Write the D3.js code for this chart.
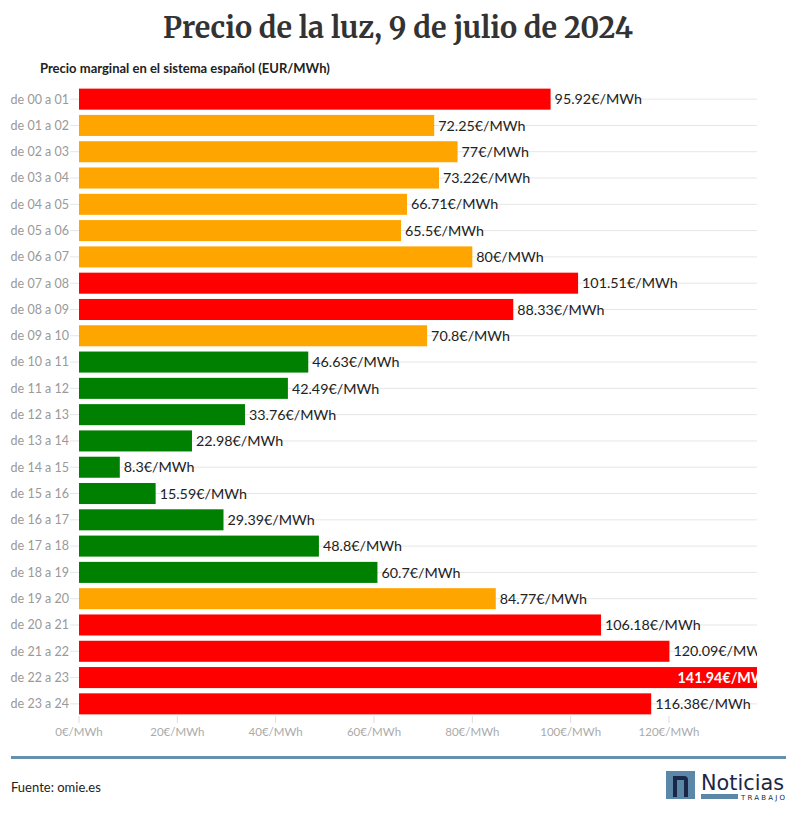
<!DOCTYPE html>
<html><head><meta charset="utf-8">
<script src="https://cdn.jsdelivr.net/npm/d3@7"></script>
<style>
body{margin:0;background:#fff;}
svg{display:block;}
</style></head>
<body>
<svg id="chart" width="796" height="817"></svg>
<script>
const categories = ["de 00 a 01","de 01 a 02","de 02 a 03","de 03 a 04","de 04 a 05","de 05 a 06","de 06 a 07","de 07 a 08","de 08 a 09","de 09 a 10","de 10 a 11","de 11 a 12","de 12 a 13","de 13 a 14","de 14 a 15","de 15 a 16","de 16 a 17","de 17 a 18","de 18 a 19","de 19 a 20","de 20 a 21","de 21 a 22","de 22 a 23","de 23 a 24"];
const values = [95.92,72.25,77,73.22,66.71,65.5,80,101.51,88.33,70.8,46.63,42.49,33.76,22.98,8.3,15.59,29.39,48.8,60.7,84.77,106.18,120.09,141.94,116.38];
const levels = ["high","mid","mid","mid","mid","mid","mid","high","high","mid","low","low","low","low","low","low","low","low","low","mid","high","high","high","high"];
const tickValues = [0,20,40,60,80,100,120];
const colorMap = {high:"#ff0000", mid:"#ffa500", low:"#008000"};

const svg = d3.select("#chart");
const sans = "'Source Sans Pro', Lato, 'Noto Sans', sans-serif";

// Title
const title = svg.append("text").attr("x",398).attr("y",38).attr("text-anchor","middle")
  .style("font-family","'Merriweather', 'DejaVu Serif', serif").style("font-weight","bold")
  .style("font-size","29px").attr("fill","#333").text("Precio de la luz, 9 de julio de 2024");
const tw = title.node().getComputedTextLength();
if (tw > 472) title.attr("textLength",470).attr("lengthAdjust","spacingAndGlyphs");

svg.append("text").attr("x",40).attr("y",73)
  .style("font-family",sans).style("font-weight","bold").style("font-size","13px")
  .attr("fill","#222").text("Precio marginal en el sistema español (EUR/MWh)");

const x = d3.scaleLinear().domain([0,137.9]).range([79,757]);
const y = d3.scaleBand().domain(categories).range([86,717]).paddingInner(0.2).paddingOuter(0.1);

svg.append("defs").append("clipPath").attr("id","plotclip")
  .append("rect").attr("x",0).attr("y",0).attr("width",757).attr("height",817);

// gridlines
svg.append("g").selectAll("line").data(categories).join("line")
  .attr("x1",70).attr("x2",757)
  .attr("y1",d=>y(d)+y.bandwidth()/2).attr("y2",d=>y(d)+y.bandwidth()/2)
  .attr("stroke","#e6e6e6").attr("stroke-width",1);

// y labels
svg.append("g").selectAll("text").data(categories).join("text")
  .attr("x",69).attr("y",d=>y(d)+y.bandwidth()/2).attr("dy","0.35em")
  .attr("text-anchor","end").style("font-family",sans).style("font-size","12.5px")
  .attr("fill","#999").text(d=>d);

const plot = svg.append("g").attr("clip-path","url(#plotclip)");
const data = categories.map((c,i)=>({c, v:values[i], l:levels[i]}));

plot.selectAll("rect.bar").data(data).join("rect").attr("class","bar")
  .attr("x",x(0)).attr("y",d=>y(d.c)).attr("width",d=>x(d.v)-x(0)).attr("height",y.bandwidth())
  .attr("fill",d=>colorMap[d.l]);

const fmt = v => (+v.toFixed(2)).toString() + "€/MWh";
plot.selectAll("text.val").data(data).join("text").attr("class","val")
  .attr("x",d=> d.v>x.domain()[1] ? x(d.v)-3 : x(d.v)+4)
  .attr("text-anchor",d=> d.v>x.domain()[1] ? "end" : "start")
  .attr("y",d=>y(d.c)+y.bandwidth()/2).attr("dy","0.36em")
  .style("font-family",sans).style("font-size","14.3px")
  .attr("fill",d=> d.v>x.domain()[1] ? "#fff" : "#222")
  .style("font-weight",d=> d.v>x.domain()[1] ? "bold" : "normal")
  .text(d=>fmt(d.v));

// x axis
const ax = svg.append("g");
ax.selectAll("line").data(tickValues).join("line")
  .attr("x1",d=>x(d)).attr("x2",d=>x(d)).attr("y1",716).attr("y2",723)
  .attr("stroke","#ddd");
ax.selectAll("text").data(tickValues).join("text")
  .attr("x",d=>x(d)).attr("y",736).attr("text-anchor","middle")
  .style("font-family",sans).style("font-size","11.5px").attr("fill","#aaa")
  .text(d=>d+"€/MWh");

// footer line
svg.append("line").attr("x1",11).attr("x2",786).attr("y1",757.5).attr("y2",757.5)
  .attr("stroke","#6590ae").attr("stroke-width",3);
svg.append("text").attr("x",11).attr("y",792)
  .style("font-family",sans).style("font-size","13px").attr("fill","#222").text("Fuente: omie.es");

// logo
const lg = svg.append("g");
lg.append("rect").attr("x",666).attr("y",771).attr("width",29).attr("height",28).attr("fill","#5b87a8");
lg.append("path").attr("d","M673,797 L673,776 L684,776 Q688,776 688,780 L688,797 L684,797 L684,780 L677,780 L677,797 Z").attr("fill","#1b2746");
lg.append("text").attr("x",701).attr("y",790).attr("textLength",83).attr("lengthAdjust","spacingAndGlyphs")
  .style("font-family","'DejaVu Sans', sans-serif").style("font-size","22px").attr("fill","#1b2746").text("Noticias");
lg.append("rect").attr("x",701).attr("y",794).attr("width",37).attr("height",5).attr("fill","#5b87a8");
lg.append("text").attr("x",741).attr("y",799.5).attr("textLength",44).attr("lengthAdjust","spacing")
  .style("font-family","'DejaVu Sans', sans-serif").style("font-size","7px").attr("fill","#1b2746").text("TRABAJO");
</script>
</body></html>
